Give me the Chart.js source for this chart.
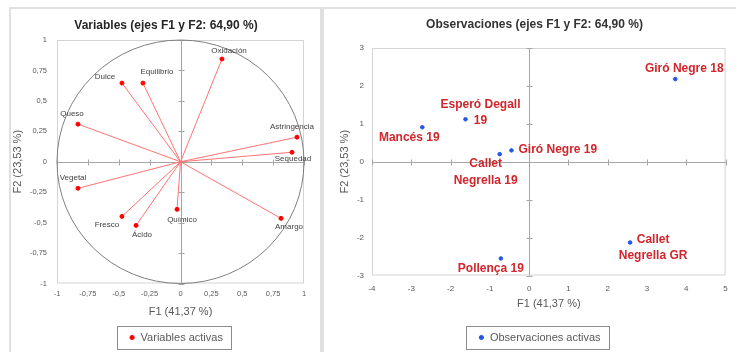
<!DOCTYPE html>
<html>
<head>
<meta charset="utf-8">
<script src="https://cdn.jsdelivr.net/npm/chart.js@4.4.0/dist/chart.umd.min.js"></script>
<style>
  html, body { margin: 0; padding: 0; background: #fff; overflow: hidden; }
  body { width: 736px; height: 352px; position: relative; }
  .panel { position: absolute; border: 2px solid #e0e0e0; box-sizing: border-box; }
  #panelVar { left: 9px; top: 7px; width: 313px; height: 400px; }
  #panelObs { left: 322px; top: 7px; width: 430px; height: 400px; }
  .wrap { position: absolute; top: 0; height: 353px; }
  #wrapVar { left: 0; width: 322px; }
  #wrapObs { left: 323px; width: 413px; }
</style>
</head>
<body>
<div class="panel" id="panelVar"></div>
<div class="panel" id="panelObs"></div>
<div class="wrap" id="wrapVar"><canvas id="chartVar"></canvas></div>
<div class="wrap" id="wrapObs"><canvas id="chartObs"></canvas></div>
<script>
// variables (circulo de correlaciones)
const varNames = ['Dulce', 'Equilibrio', 'Oxidación', 'Queso', 'Astringencia', 'Sequedad', 'Vegetal', 'Fresco', 'Ácido', 'Químico', 'Amargo'];
const varF1 = [-0.474, -0.304, 0.336, -0.83, 0.943, 0.903, -0.83, -0.474, -0.36, -0.028, 0.814];
const varF2 = [0.646, 0.646, 0.844, 0.309, 0.202, 0.078, -0.218, -0.449, -0.523, -0.391, -0.465];
const varTickValues = [-1, -0.75, -0.5, -0.25, 0, 0.25, 0.5, 0.75, 1];
const varTickLabels = ['-1', '-0,75', '-0,5', '-0,25', '0', '0,25', '0,5', '0,75', '1'];

// observaciones
const obsNames = ['Giró Negre 18', 'Esperó Degall 19', 'Mancés 19', 'Giró Negre 19', 'Callet Negrella 19', 'Callet Negrella GR', 'Pollença 19'];
const obsF1 = [3.72, -1.62, -2.72, -0.45, -0.75, 2.57, -0.72];
const obsF2 = [2.18, 1.12, 0.91, 0.30, 0.20, -2.13, -2.55];
const obsXTicks = [-4, -3, -2, -1, 0, 1, 2, 3, 4, 5];
const obsXTickLabels = ['-4', '-3', '-2', '-1', '0', '1', '2', '3', '4', '5'];
const obsYTicks = [-3, -2, -1, 0, 1, 2, 3];
const obsYTickLabels = ['-3', '-2', '-1', '0', '1', '2', '3'];

// donde va cada etiqueta respecto a su punto (px)
const varLabelPos = [
  {dx: -17, dy: -6}, {dx: 14, dy: -11}, {dx: 7, dy: -8}, {dx: -6, dy: -10},
  {dx: -5, dy: -10}, {dx: 1, dy: 7}, {dx: -5, dy: -10}, {dx: -15, dy: 8},
  {dx: 6, dy: 9}, {dx: 5, dy: 10}, {dx: 8, dy: 8}
];
const obsLabelPos = [
  {dx: 9, dy: -10}, {dx: 15, dy: -15, br: 'last'}, {dx: -13, dy: 10},
  {dx: 7, dy: -1, align: 'left'}, {dx: -14, dy: 10, br: 'first'},
  {dx: 23, dy: -3, br: 'first'}, {dx: -10, dy: 10}
];

Chart.defaults.font.family = '"Liberation Sans", Arial, sans-serif';
Chart.defaults.animation = false;

const axesPlugin = (circle) => ({
  id: 'axesPlugin',
  beforeDatasetsDraw(chart) {
    const {ctx, chartArea: a} = chart;
    const xs = chart.scales.x, ys = chart.scales.y;
    const x0 = Math.round(xs.getPixelForValue(0)) + 0.5;
    const y0 = Math.round(ys.getPixelForValue(0)) + 0.5;
    ctx.save();
    ctx.lineWidth = 1;
    ctx.strokeStyle = '#d4d4d4';
    ctx.strokeRect(a.left + 0.5, a.top + 0.5, a.width - 1, a.height - 1);
    ctx.strokeStyle = '#a6a6a6';
    ctx.beginPath();
    ctx.moveTo(x0, a.top); ctx.lineTo(x0, a.bottom);
    ctx.moveTo(a.left, y0); ctx.lineTo(a.right, y0);
    ys.ticks.forEach(t => {
      if (t.value === 0) return;
      const py = Math.round(ys.getPixelForValue(t.value)) + 0.5;
      ctx.moveTo(x0 - 3, py); ctx.lineTo(x0 + 3, py);
    });
    xs.ticks.forEach(t => {
      if (t.value === 0) return;
      const px = Math.round(xs.getPixelForValue(t.value)) + 0.5;
      ctx.moveTo(px, y0 - 3); ctx.lineTo(px, y0 + 3);
    });
    ctx.stroke();
    if (circle) {
      const cx = xs.getPixelForValue(0), cy = ys.getPixelForValue(0);
      const rx = xs.getPixelForValue(1) - cx, ry = cy - ys.getPixelForValue(1);
      ctx.strokeStyle = '#7f7f7f';
      ctx.beginPath();
      ctx.ellipse(cx, cy, rx, ry, 0, 0, Math.PI * 2);
      ctx.stroke();
    }
    ctx.restore();
  }
});

const pointLabels = (names, pos, font, color, lineHeight) => ({
  id: 'pointLabels',
  afterDatasetsDraw(chart) {
    const ctx = chart.ctx;
    const meta = chart.getDatasetMeta(0);
    ctx.save();
    ctx.font = font;
    ctx.fillStyle = color;
    ctx.textBaseline = 'middle';
    meta.data.forEach((pt, i) => {
      const p = pos[i];
      let lines = [names[i]];
      if (p.br) {
        const k = p.br === 'first' ? names[i].indexOf(' ') : names[i].lastIndexOf(' ');
        lines = [names[i].slice(0, k), names[i].slice(k + 1)];
      }
      ctx.textAlign = p.align || 'center';
      lines.forEach((s, j) => ctx.fillText(s, pt.x + p.dx, pt.y + p.dy + j * lineHeight));
    });
    ctx.restore();
  }
});

// recuadro alrededor de la leyenda
const legendBox = (shift) => ({
  id: 'legendBox',
  afterLayout(chart) {
    chart.legend.left += shift;
    chart.legend.right += shift;
  },
  afterDraw(chart) {
    const lg = chart.legend;
    const hb = lg.legendHitBoxes[0];
    if (!hb) return;
    const cy = lg.top + lg.options.labels.padding + 5.5;
    const ctx = chart.ctx;
    ctx.save();
    ctx.strokeStyle = '#8c8c8c';
    ctx.lineWidth = 1;
    const l = Math.round(hb.left - 12) + 0.5, r = Math.round(hb.left + hb.width + 8) + 0.5;
    ctx.strokeRect(l, Math.round(cy - 12) + 0.5, r - l, 23);
    ctx.restore();
  }
});

const makeScale = (min, max, values, labels, opts) => ({
  type: 'linear',
  min: min,
  max: max,
  afterBuildTicks: s => { s.ticks = values.map(v => ({value: v})); },
  afterFit: opts.fit,
  grid: {display: false, drawTicks: false},
  border: {display: false},
  ticks: {
    callback: (v, i) => labels[i],
    font: {size: opts.tickSize},
    color: '#595959',
    padding: opts.tickPad,
    maxRotation: 0,
    autoSkip: false
  },
  title: {
    display: true,
    text: opts.title,
    font: {size: 11},
    color: '#595959',
    padding: opts.titlePad
  }
});

const legendOpts = {
  position: 'bottom',
  labels: {
    usePointStyle: true,
    pointStyle: 'circle',
    boxWidth: 6,
    boxHeight: 3,
    font: {size: 11},
    color: '#595959',
    padding: 6,
    filter: item => item.datasetIndex === 0
  }
};

// grafico de variables
const varPoints = varNames.map((n, i) => ({x: varF1[i], y: varF2[i]}));
const varDatasets = [{
  label: 'Variables activas',
  data: varPoints,
  pointRadius: 2,
  backgroundColor: '#ff0000',
  borderColor: '#ff0000',
  showLine: false
}].concat(varNames.map((n, i) => ({
  label: n,
  data: [{x: 0, y: 0}, varPoints[i]],
  showLine: true,
  pointRadius: 0,
  borderColor: '#ff7373',
  borderWidth: 1
})));

new Chart(document.getElementById('chartVar'), {
  type: 'scatter',
  data: {datasets: varDatasets},
  options: {
    responsive: true,
    maintainAspectRatio: false,
    layout: {padding: {left: 28, right: 18, top: 0, bottom: 0}},
    scales: {
      x: makeScale(-1, 1, varTickValues, varTickLabels, {
        tickSize: 7.5, tickPad: 6, title: 'F1 (41,37 %)', titlePad: {top: 0, bottom: 7.9},
        fit: s => { s.height = 42.5; }
      }),
      y: makeScale(-1, 1, varTickValues, varTickLabels, {
        tickSize: 7.5, tickPad: 10, title: 'F2 (23,53 %)', titlePad: {top: -16.6, bottom: 0},
        fit: s => { s.width = 29; }
      })
    },
    plugins: {
      title: {
        display: true,
        text: 'Variables (ejes F1 y F2: 64,90 %)',
        font: {size: 12, weight: 'bold'},
        color: '#262626',
        padding: {top: 18.8, bottom: 6.8}
      },
      legend: legendOpts,
      tooltip: {enabled: false}
    }
  },
  plugins: [axesPlugin(true), pointLabels(varNames, varLabelPos, '8px "Liberation Sans", Arial, sans-serif', '#404040', 10), legendBox(10)]
});

// grafico de observaciones
new Chart(document.getElementById('chartObs'), {
  type: 'scatter',
  data: {
    datasets: [{
      label: 'Observaciones activas',
      data: obsNames.map((n, i) => ({x: obsF1[i], y: obsF2[i]})),
      pointRadius: 1.8,
      backgroundColor: '#2457e6',
      borderColor: '#2457e6'
    }]
  },
  options: {
    responsive: true,
    maintainAspectRatio: false,
    layout: {padding: {left: 14, right: 4, top: 0, bottom: 0}},
    scales: {
      x: makeScale(-4, 5, obsXTicks, obsXTickLabels, {
        tickSize: 8, tickPad: 8.2, title: 'F1 (41,37 %)', titlePad: {top: 0, bottom: 15.9},
        fit: s => { s.height = 50.5; }
      }),
      y: makeScale(-3, 3, obsYTicks, obsYTickLabels, {
        tickSize: 8, tickPad: 8, title: 'F2 (23,53 %)', titlePad: {top: 1.4, bottom: 0},
        fit: s => { s.width = 35; }
      })
    },
    plugins: {
      title: {
        display: true,
        text: 'Observaciones (ejes F1 y F2: 64,90 %)',
        font: {size: 12, weight: 'bold'},
        color: '#333333',
        padding: {top: 17.8, bottom: 15.8}
      },
      legend: legendOpts,
      tooltip: {enabled: false}
    }
  },
  plugins: [axesPlugin(false), pointLabels(obsNames, obsLabelPos, 'bold 12px "Liberation Sans", Arial, sans-serif', '#d0262c', 16.5), legendBox(5)]
});
</script>
</body>
</html>
